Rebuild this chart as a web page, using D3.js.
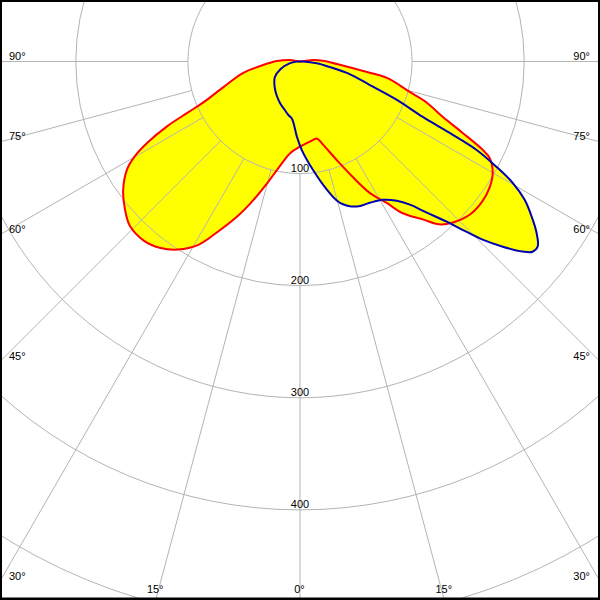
<!DOCTYPE html>
<html><head><meta charset="utf-8">
<script src="https://cdn.jsdelivr.net/npm/d3@7"></script>
<style>html,body{margin:0;padding:0;background:#fff}svg{display:block}</style>
</head><body>
<svg id="chart" width="600" height="600"></svg>
<script>
// ---- data ----
const ringValues = [100, 200, 300, 400, 500];
const ringLabels = ["100", "200", "300", "400"];
const spokeAngles = [-90, -75, -60, -45, -30, -15, 0, 15, 30, 45, 60, 75, 90];
const spokeLabels = ["90°", "75°", "60°", "45°", "30°", "15°", "0°", "15°", "30°", "45°", "60°", "75°", "90°"];

// C0-C180 plane (red): gamma angle (deg, + to the right) and intensity
const redGamma = [-98.5, -91, -84.5, -78.5, -71.5, -67, -65.5, -64, -62, -60, -58, -54, -50, -46, -41, -37, -33, -29, -26, -22, -18.5, -15, -12, -6, 0, 7, 12.5, 15.5, 20.5, 24.5, 28, 31.5, 34, 38, 40.5, 43.5, 48, 52.5, 56.5, 60, 63, 64.2, 66.3, 68.8, 72, 74.5, 79.3, 81.4, 86, 91, 96.5, 180];
const redI = [9, 20.5, 33, 52, 72, 94, 110.5, 132, 154, 171, 182, 195, 204, 211, 212, 208, 200, 187, 170, 149, 130, 112, 99, 82, 76, 72, 70.5, 77, 94, 113, 133, 148, 163, 179, 191, 198, 204, 205, 203, 198.5, 190, 181, 158.5, 136.5, 119, 101.5, 79, 57, 33, 22, 11.5, 0];

// C90-C270 plane (blue)
const blueGamma = [-88, -80, -69, -58, -45, -35, -25.5, -18, -12, -8, -2.3, 1.1, 6.8, 11.9, 15.8, 21.4, 26.3, 30.9, 34.8, 37.5, 40, 42.5, 44, 45.7, 47.6, 49.5, 50.7, 52.1, 54.1, 56.2, 58.4, 60.3, 61.8, 63.4, 64.5, 65.7, 68.4, 71.4, 76.3, 81.4, 84, 90, 180];
const blueI = [3, 9.5, 18.5, 26.5, 32, 36.5, 41.2, 45, 49, 51.5, 67.3, 78.8, 97.3, 117, 131, 139, 140.6, 143.8, 151.3, 161, 176, 193.8, 208.7, 227.6, 245, 261, 268, 268.7, 260.5, 248.7, 235.3, 218.4, 199, 176.2, 148, 120.2, 93, 65.8, 43.1, 21, 15, 3, 0];

// ---- layout ----
const W = 600, H = 600, CX = 300, CY = 61.5;
const GRID = "#b4b4b4";
const FONT = "'Liberation Sans', Arial, sans-serif";

const svg = d3.select("#chart");
svg.append("rect").attr("width", W).attr("height", H).attr("fill", "#fff");
svg.append("defs").append("clipPath").attr("id", "clip")
  .append("rect").attr("x", 0).attr("y", 0).attr("width", W).attr("height", H);

const rScale = d3.scaleLinear().domain([0, 100]).range([0, 112.1]);
const toRad = d => d * Math.PI / 180;

const g = svg.append("g").attr("clip-path", "url(#clip)")
  .append("g").attr("transform", `translate(${CX},${CY})`);

const line = d3.lineRadial()
  .angle(d => Math.PI - toRad(d[0]))
  .radius(d => rScale(d[1]))
  .curve(d3.curveCatmullRomClosed.alpha(0.5));

const redPts = redGamma.map((a, i) => [a, redI[i]]);
const bluePts = blueGamma.map((a, i) => [a, blueI[i]]);

// fills
g.append("path").attr("d", line(redPts)).attr("fill", "#ffff00").attr("stroke", "none");
g.append("path").attr("d", line(bluePts)).attr("fill", "#ffff00").attr("stroke", "none");

// grid rings
g.selectAll("circle.ring").data(ringValues).join("circle")
  .attr("class", "ring").attr("r", d => rScale(d))
  .attr("fill", "none").attr("stroke", GRID).attr("stroke-width", 1);

// spokes from ring 100 outward
g.selectAll("line.spoke").data(spokeAngles).join("line")
  .attr("class", "spoke")
  .attr("x1", d => rScale(100) * Math.sin(toRad(d)))
  .attr("y1", d => rScale(100) * Math.cos(toRad(d)))
  .attr("x2", d => rScale(1000) * Math.sin(toRad(d)))
  .attr("y2", d => rScale(1000) * Math.cos(toRad(d)))
  .attr("stroke", GRID).attr("stroke-width", 1);

// curves
g.append("path").attr("d", line(redPts)).attr("fill", "none").attr("stroke", "#ff0000").attr("stroke-width", 2);
g.append("path").attr("d", line(bluePts)).attr("fill", "none").attr("stroke", "#0000b0").attr("stroke-width", 2);

// ring labels
g.selectAll("text.rl").data(ringLabels).join("text")
  .attr("class", "rl")
  .attr("x", 0).attr("y", d => rScale(+d) - 1.5)
  .attr("text-anchor", "middle")
  .attr("font-family", FONT).attr("font-size", 11).attr("fill", "#000")
  .text(d => d);

// angle labels where the spokes leave the frame
spokeAngles.forEach((a, i) => {
  const s = Math.sin(toRad(a)), c = Math.cos(toRad(a));
  const tSide = Math.abs(s) > 1e-9 ? (W / 2) / Math.abs(s) : Infinity;
  const tBottom = (H - CY) / c;
  const t = Math.min(tSide, tBottom);
  const ex = CX + t * s, ey = CY + t * c;
  const txt = svg.append("text")
    .attr("font-family", FONT).attr("font-size", 11).attr("fill", "#000")
    .text(spokeLabels[i]);
  if (tSide <= tBottom) {
    if (a < 0) txt.attr("x", 9).attr("text-anchor", "start");
    else txt.attr("x", W - 10).attr("text-anchor", "end");
    txt.attr("y", ey - 1.5);
  } else {
    txt.attr("x", ex - 0.5).attr("y", 593).attr("text-anchor", "middle");
  }
});

// frame
svg.append("rect").attr("x", 0.5).attr("y", 0.5).attr("width", W - 1).attr("height", H - 1.5)
  .attr("fill", "none").attr("stroke", "#000").attr("stroke-width", 3);
</script>
</body></html>
